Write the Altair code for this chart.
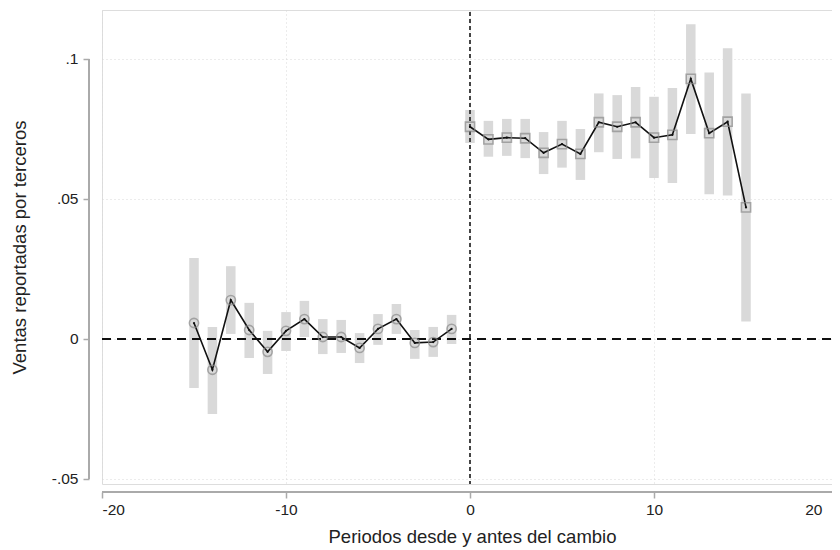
import altair as alt
import pandas as pd

# Pre-period (circles)
pre_x = [-15, -14, -13, -12, -11, -10, -9, -8, -7, -6, -5, -4, -3, -2, -1]
pre_y = [0.0057, -0.0110, 0.0139, 0.0032, -0.0046, 0.0029, 0.0071, 0.0007, 0.0007,
         -0.0032, 0.0036, 0.0071, -0.0014, -0.0011, 0.0036]
pre_lo = [-0.0175, -0.0268, 0.0018, -0.0068, -0.0125, -0.0043, 0.0007, -0.0054, -0.0050,
          -0.0086, -0.0021, 0.0018, -0.0071, -0.0064, -0.0018]
pre_hi = [0.0289, 0.0043, 0.0260, 0.0129, 0.0029, 0.0096, 0.0136, 0.0071, 0.0068,
          0.0021, 0.0089, 0.0125, 0.0032, 0.0043, 0.0086]

# Post-period (squares)
post_x = [0, 1, 2, 3, 4, 5, 6, 7, 8, 9, 10, 11, 12, 13, 14, 15]
post_y = [0.0758, 0.0713, 0.0719, 0.0717, 0.0665, 0.0696, 0.0661, 0.0774, 0.0758,
          0.0774, 0.0719, 0.0729, 0.0929, 0.0735, 0.0776, 0.0470]
post_lo = [0.0700, 0.0651, 0.0654, 0.0646, 0.0589, 0.0612, 0.0568, 0.0667, 0.0643,
           0.0645, 0.0575, 0.0557, 0.0732, 0.0517, 0.0512, 0.0062]
post_hi = [0.0818, 0.0779, 0.0786, 0.0786, 0.0739, 0.0779, 0.0750, 0.0877, 0.0871,
           0.0900, 0.0865, 0.0896, 0.1124, 0.0952, 0.1038, 0.0877]

x_ticks = [-20, -10, 0, 10, 20]
y_ticks = [-0.05, 0, 0.05, 0.1]

x_title = "Periodos desde y antes del cambio"
y_title = "Ventas reportadas por terceros"

pre = pd.DataFrame({"x": pre_x, "y": pre_y, "lo": pre_lo, "hi": pre_hi, "g": "pre"})
post = pd.DataFrame({"x": post_x, "y": post_y, "lo": post_lo, "hi": post_hi, "g": "post"})
df = pd.concat([pre, post], ignore_index=True)

FONT = "Liberation Sans"
W, H = 730, 474
XR = 736  # full x range (extends slightly past the visible view)

xscale = alt.Scale(domain=[-20, 20], range=[0, XR], nice=False, zero=False)
yscale = alt.Scale(domain=[-0.0518, 0.1175], nice=False, zero=False)

xaxis = alt.Axis(values=x_ticks, title=x_title, offset=8, domain=False,
                 grid=True, gridColor="#d8d8d8", gridDash=[1, 3], gridWidth=1,
                 tickColor="#aaaaaa", tickSize=6, tickWidth=1.5,
                 labelExpr="datum.value < 0 ? '-' + abs(datum.value) : '' + datum.value",
                 labelOffset={"condition": {"test": "datum.value == 20", "value": -16}, "value": 0},
                 labelFont=FONT, labelFontSize=15.5, labelColor="#222222", labelPadding=4,
                 titleFont=FONT, titleFontSize=18.5, titleFontWeight="normal",
                 titleColor="#222222", titlePadding=10, titleX=470 - 94 - 8 + 2)
yaxis = alt.Axis(values=y_ticks, title=y_title, offset=13, domain=False,
                 grid=True, gridColor="#d8d8d8", gridDash=[1, 3], gridWidth=1,
                 tickColor="#aaaaaa", tickSize=6, tickWidth=1.5,
                 labelExpr="datum.value > 0.09 ? '.1' : datum.value > 0.04 ? '.05' : datum.value < -0.04 ? '-.05' : '0'",
                 labelFont=FONT, labelFontSize=15.5, labelColor="#222222", labelPadding=5,
                 titleFont=FONT, titleFontSize=18.5, titleFontWeight="normal",
                 titleColor="#222222", titlePadding=22)

base = alt.Chart(df)

bars = base.mark_rule(strokeWidth=9.5, color="#d9d9d9").encode(
    x=alt.X("x:Q", scale=xscale, axis=xaxis),
    y=alt.Y("lo:Q", scale=yscale, axis=yaxis),
    y2="hi:Q",
)

zero_h = alt.Chart(df).mark_rule(color="#111111", strokeWidth=1.5, strokeDash=[9, 6]).encode(
    y=alt.datum(0), x=alt.value(0), x2=alt.value(W)
)
zero_v = alt.Chart(df).mark_rule(color="#444444", strokeWidth=1, strokeDash=[4, 3]).encode(
    x=alt.datum(0), y=alt.value(2), y2=alt.value(H)
)

line = base.mark_line(color="#111111", strokeWidth=1.6).encode(
    x="x:Q", y="y:Q", detail="g:N"
)

circles = alt.Chart(pre).mark_point(shape="circle", size=85, filled=False,
                                     color="#8a8a8a", strokeWidth=1.6).encode(x="x:Q", y="y:Q")
squares = alt.Chart(post).mark_point(shape="square", size=85, filled=False,
                                      color="#8a8a8a", strokeWidth=1.6).encode(x="x:Q", y="y:Q")
dots = base.mark_point(shape="circle", size=5, filled=True, color="#111111", opacity=1).encode(
    x="x:Q", y="y:Q")

yline = alt.Chart(df).mark_rule(color="#aaaaaa", strokeWidth=1.5).encode(
    x=alt.value(-13), y=alt.datum(-0.05), y2=alt.datum(0.1)
)
xline = alt.Chart(df).mark_rule(color="#aaaaaa", strokeWidth=1.5).encode(
    y=alt.value(H + 8), x=alt.datum(-20), x2=alt.datum(20)
)

chart = alt.layer(bars, zero_h, zero_v, line, circles, squares, dots, yline, xline).properties(
    width=W, height=H,
    autosize=alt.AutoSizeParams(type="none"),
    padding={"left": 94, "top": 2, "right": 0, "bottom": 66},
).configure_view(stroke=None).configure(background="white")

chart.save("out.html", embed_options={"renderer": "svg", "actions": False})
